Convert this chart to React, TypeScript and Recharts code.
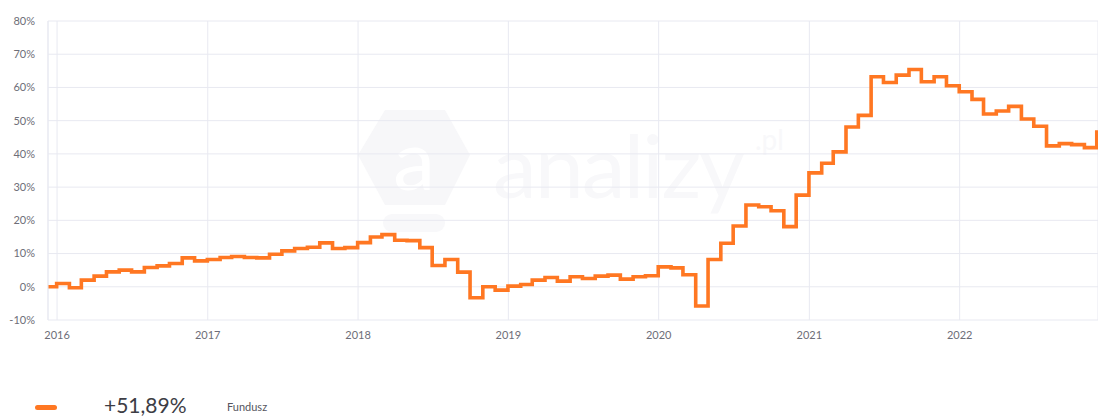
import React from 'react';
import { LineChart, Line, XAxis, YAxis, CartesianGrid } from 'recharts';

// Month-end observation dates (step changes happen at month end)
const months: string[] = [
  '2015-12',
  '2016-01', '2016-02', '2016-03', '2016-04', '2016-05', '2016-06', '2016-07', '2016-08', '2016-09', '2016-10', '2016-11', '2016-12',
  '2017-01', '2017-02', '2017-03', '2017-04', '2017-05', '2017-06', '2017-07', '2017-08', '2017-09', '2017-10', '2017-11', '2017-12',
  '2018-01', '2018-02', '2018-03', '2018-04', '2018-05', '2018-06', '2018-07', '2018-08', '2018-09', '2018-10', '2018-11', '2018-12',
  '2019-01', '2019-02', '2019-03', '2019-04', '2019-05', '2019-06', '2019-07', '2019-08', '2019-09', '2019-10', '2019-11', '2019-12',
  '2020-01', '2020-02', '2020-03', '2020-04', '2020-05', '2020-06', '2020-07', '2020-08', '2020-09', '2020-10', '2020-11', '2020-12',
  '2021-01', '2021-02', '2021-03', '2021-04', '2021-05', '2021-06', '2021-07', '2021-08', '2021-09', '2021-10', '2021-11', '2021-12',
  '2022-01', '2022-02', '2022-03', '2022-04', '2022-05', '2022-06', '2022-07', '2022-08', '2022-09', '2022-10', '2022-11',
];

// Cumulative return of the fund (%) valid from each month end
const fundusz: number[] = [
  1.0,
  -0.3, 2.0, 3.2, 4.5, 5.0, 4.5, 5.8, 6.3, 7.0, 8.7, 7.8, 8.2,
  8.8, 9.1, 8.8, 8.7, 9.8, 10.8, 11.5, 11.9, 13.2, 11.5, 11.8, 13.3,
  15.0, 15.7, 14.0, 13.9, 11.8, 6.4, 8.2, 4.4, -3.3, 0.0, -1.0, 0.2,
  0.7, 2.0, 2.8, 1.7, 3.0, 2.5, 3.2, 3.5, 2.3, 3.0, 3.3, 6.0,
  5.7, 3.6, -5.8, 8.2, 13.1, 18.3, 24.6, 24.1, 22.9, 18.1, 27.6, 34.3,
  37.2, 40.6, 48.1, 51.6, 63.2, 61.5, 63.7, 65.4, 61.7, 63.2, 60.5, 58.7,
  56.4, 52.0, 52.9, 54.3, 50.5, 48.3, 42.4, 43.1, 42.8, 41.9, 46.6,
];

const startDate = '2015-12-10';
const startValue = 0;
const endDate = '2022-12-03';

const yearTicks: string[] = ['2016', '2017', '2018', '2019', '2020', '2021', '2022'];
const yTicks: number[] = [-10, 0, 10, 20, 30, 40, 50, 60, 70, 80];

const legendValue = '+51,89%';
const legendName = 'Fundusz';

const ts = (s: string) => {
  const [y, m, d] = s.split('-').map(Number);
  return Date.UTC(y, m - 1, d);
};
const monthEnd = (ym: string) => {
  const [y, m] = ym.split('-').map(Number);
  return Date.UTC(y, m, 0);
};

const data = [
  { x: ts(startDate), v: startValue },
  ...months.map((ym, i) => ({ x: monthEnd(ym), v: fundusz[i] })),
  { x: ts(endDate), v: fundusz[fundusz.length - 1] },
];

const xTicks = yearTicks.map((y) => Date.UTC(Number(y), 0, 1));

const GRID = '#e8e9f1';
const TICK = { fill: '#6e6e78', fontSize: 11, fontFamily: 'Lato, sans-serif' };

export default function App() {
  return (
    <div style={{ position: 'absolute', left: 0, top: 0, width: 1098, height: 417, background: '#fff', overflow: 'hidden', fontFamily: 'Lato, sans-serif' }}>
      <svg width={1098} height={350} style={{ position: 'absolute', left: 0, top: 0 }}>
        <polygon points="358,155 385,110 445,110 470,155 445,205 385,205" fill="#f7f7f9" />
        <rect x={383} y={214} width={62} height={18} rx={9} fill="#f8f8fa" />
        <text x={414} y={190} textAnchor="middle" fontSize={84} fontFamily="Lato, sans-serif" fill="#ffffff">a</text>
        <text x={493} y={198} fontSize={88} fontFamily="Lato, sans-serif" fill="#f8f8fa" letterSpacing={-2}>analizy</text>
        <text x={755} y={150} fontSize={28} fontFamily="Lato, sans-serif" fill="#f8f8fa">.pl</text>
      </svg>
      <div style={{ position: 'absolute', left: 0, top: 0 }}>
        <LineChart width={1098} height={350} data={data} margin={{ top: 21, right: 0, left: 0, bottom: 0 }}>
          <CartesianGrid stroke={GRID} strokeWidth={1} />
          <XAxis
            dataKey="x"
            type="number"
            domain={[ts(startDate), ts(endDate)]}
            ticks={xTicks}
            tickFormatter={(v: number) => String(new Date(v).getUTCFullYear())}
            axisLine={false}
            tickLine={false}
            tickSize={0}
            tickMargin={11}
            height={30}
            tick={TICK}
            allowDataOverflow
          />
          <YAxis
            type="number"
            domain={[-10, 80]}
            ticks={yTicks}
            tickFormatter={(v: number) => `${v}%`}
            axisLine={{ stroke: GRID }}
            tickLine={false}
            tickSize={0}
            tickMargin={13}
            width={48}
            tick={TICK}
            interval={0}
          />
          <Line
            type="stepAfter"
            dataKey="v"
            stroke="#ff7722"
            strokeWidth={3.6}
            dot={false}
            activeDot={false}
            isAnimationActive={false}
          />
        </LineChart>
      </div>
      <div style={{ position: 'absolute', left: 35, top: 405, width: 22, height: 5, borderRadius: 3, background: '#ff7722' }} />
      <div style={{ position: 'absolute', left: 104, top: 394, fontSize: 21, color: '#3d3d45', lineHeight: '22px', whiteSpace: 'nowrap' }}>{legendValue}</div>
      <div style={{ position: 'absolute', left: 227, top: 400, fontSize: 11, color: '#55555e', lineHeight: '14px', whiteSpace: 'nowrap' }}>{legendName}</div>
    </div>
  );
}
